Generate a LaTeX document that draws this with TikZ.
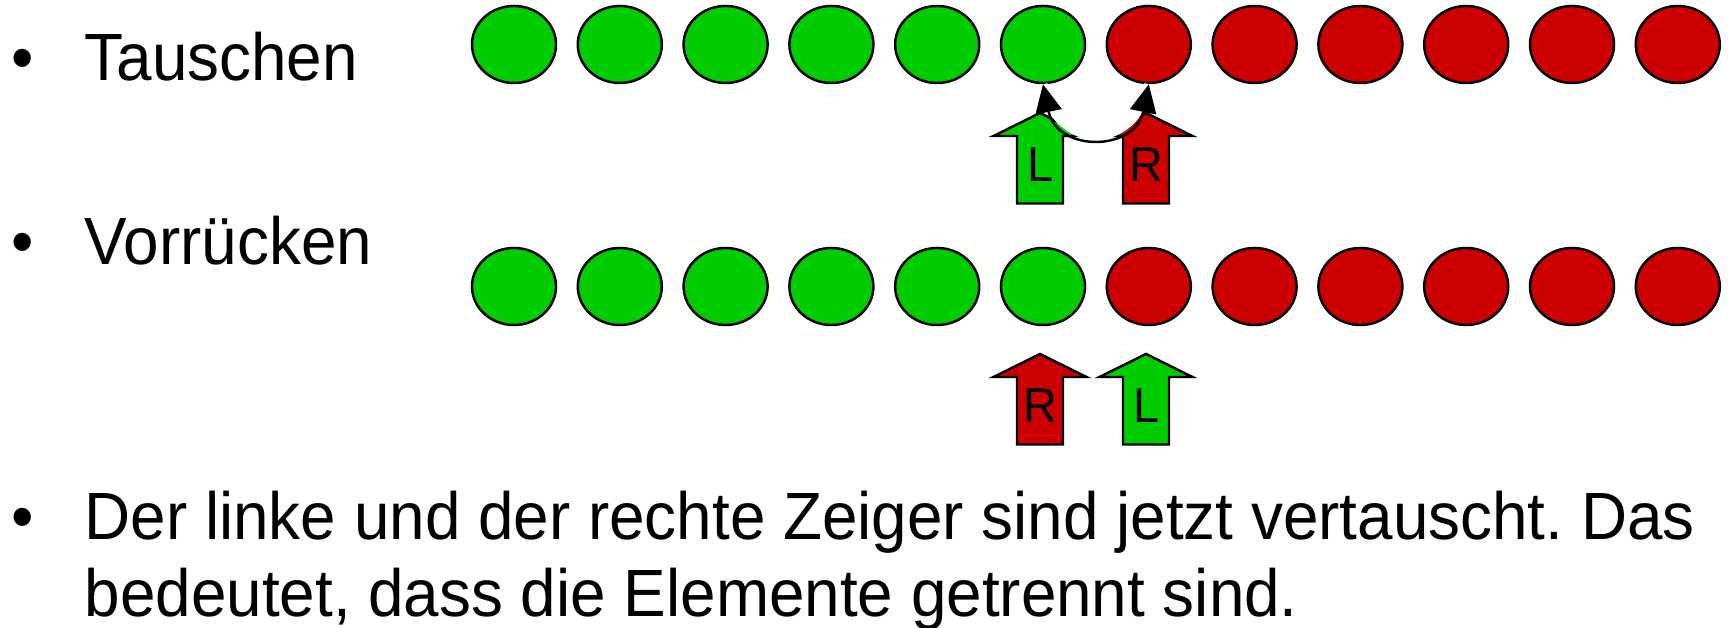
\documentclass[tikz,border=0pt]{standalone}
\usepackage{fontspec}
\setmainfont{Liberation Sans}[FakeStretch=0.955]
\frenchspacing
\usetikzlibrary{shapes.geometric,arrows.meta}
\definecolor{gruen}{HTML}{00CC00}
\definecolor{rot}{HTML}{CC0000}
% Zeigerpfeil: x, y der Spitze, Farbe, Buchstabe, Name
\newcommand{\zeigerpfeil}[5]{%
  \draw[zeiger, fill=#3] (#1,#2) -- ++(46.5,23) -- ++(-23.5,0) -- ++(0,67.5)
    -- ++(-46,0) -- ++(0,-67.5) -- ++(-23.5,0) -- cycle;
  \node[marke] (#5) at (#1,#2+51.5) {#4};}

\begin{document}
\begin{tikzpicture}[x=0.01cm, y=-0.01cm,
    element/.style={ellipse, draw, line width=0.7pt, inner sep=0pt,
      minimum width=0.84cm, minimum height=0.77cm},
    zeiger/.style={draw, line width=0.7pt, line join=miter},
    marke/.style={font=\fontsize{13.9pt}{16pt}\selectfont, inner sep=0pt},
    punkt/.style={font=\fontsize{19pt}{21.9pt}\selectfont,
      anchor=base west, inner sep=0pt, align=left},
    spitze/.tip={Triangle[length=8pt,width=7.5pt]},
    tausch/.style={spitze-spitze, line width=0.7pt,
      preaction={draw=white, line width=2.6pt, -}}
  ]
  \useasboundingbox (0,0) rectangle (1729,628);
  % Aufzählung
  \node[punkt, anchor=base] (p1) at (23,81)  {•};
  \node[punkt, anchor=base] (p2) at (23,265) {•};
  \node[punkt, anchor=base] (p3) at (23,540) {•};
  \node[punkt] (tau) at (84,81)  {Tauschen};
  \node[punkt] (vor) at (84,265) {Vorrücken};
  \node[punkt] (erg) at (84,617)
  {Der linke und der rechte Zeiger sind jetzt vertauscht. Das\\
   bedeutet, dass die Elemente getrennt sind.};
  % Elemente
  \foreach \i in {1,...,12} {
    \ifnum\i<7 \def\farbe{gruen}\else \def\farbe{rot}\fi
    \node[element, fill=\farbe] (t\i) at ({514+105.8*(\i-1)},44.5)  {};
    \node[element, fill=\farbe] (v\i) at ({514+105.8*(\i-1)},286.5) {};
  }
  % Zeiger
  \zeigerpfeil{1040}{113}{gruen}{L}{l1}
  \zeigerpfeil{1146}{113}{rot}{R}{r1}
  \zeigerpfeil{1040}{354}{rot}{R}{r2}
  \zeigerpfeil{1146}{354}{gruen}{L}{l2}
  \draw[tausch] (t6.south) .. controls +(14,68) and +(-14,68) .. (t7.south);
\end{tikzpicture}
\end{document}
